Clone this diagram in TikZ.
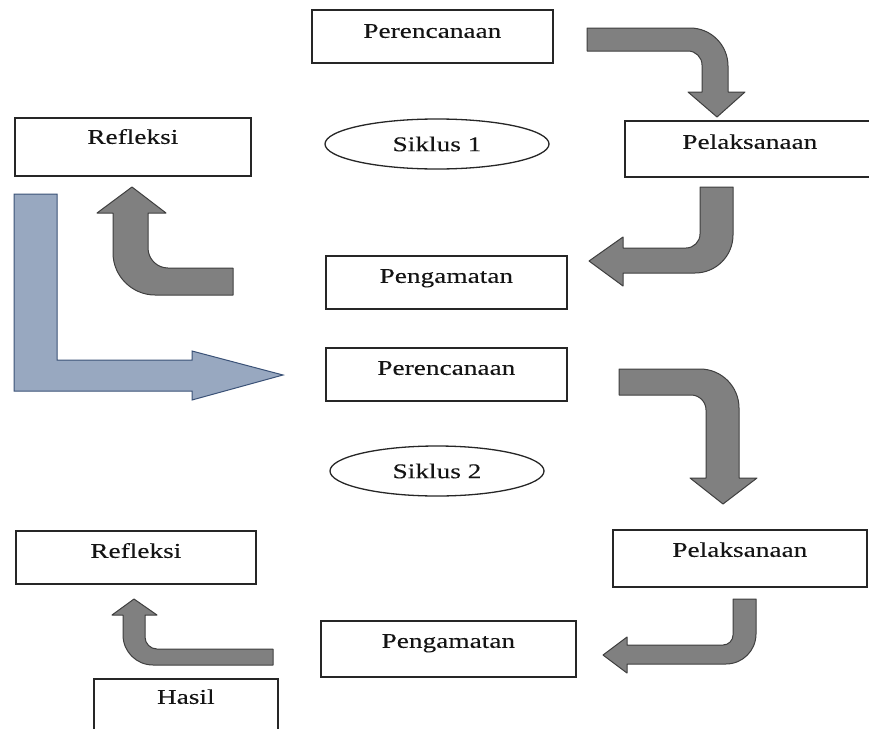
\documentclass[tikz,border=0pt]{standalone}
\usepackage{fontspec}
\setmainfont{Liberation Serif}[FakeStretch=1.3,FakeBold=0.15]
\usetikzlibrary{shapes.geometric}
\definecolor{ink}{HTML}{141414}
\definecolor{frame}{HTML}{262626}
\definecolor{bend}{HTML}{808080}
\definecolor{bendline}{HTML}{3F3F3F}
\definecolor{steel}{HTML}{98A8C0}
\definecolor{steelline}{HTML}{3B5277}
\tikzset{every node/.style={font=\fontsize{21}{25}\selectfont,text=ink},
box/.style={draw=frame,line width=1.7pt,inner sep=0pt,align=center,anchor=north west,text height=27pt,text depth=26pt},
cycle/.style={ellipse,draw=frame,line width=1.3pt,inner sep=0pt,minimum height=50pt},
bent/.style={fill=bend,draw=bendline,line width=1pt,line join=round},
back/.style={fill=steel,draw=steelline,line width=1pt}}
\begin{document}
\begin{tikzpicture}[x=1pt,y=-1pt]
\useasboundingbox (0,0) rectangle (869,728);
% siklus 1
\node[box,text width=241pt,text height=28pt,text depth=25pt] (plan1) at (311,9) {Perencanaan};
\node[box,text width=236pt,text height=26pt,text depth=32pt] (refl1) at (14,117) {Refleksi};
\node[box,text width=250pt,text height=28pt,text depth=28pt] (act1) at (624,120) {Pelaksanaan};
\node[box,text width=241pt] (obs1) at (325,255) {Pengamatan};
\node[cycle,minimum width=224pt] (cyc1) at (437,144) {Siklus 1};
% siklus 2
\node[box,text width=241pt] (plan2) at (325,347) {Perencanaan};
\node[box,text width=240pt] (refl2) at (15,530) {Refleksi};
\node[box,text width=254pt,text depth=30pt] (act2) at (612,529) {Pelaksanaan};
\node[box,text width=255pt,text depth=29pt] (obs2) at (320,620) {Pengamatan};
\node[box,text width=184pt,text height=25pt,text depth=35pt] (res) at (93,678) {Hasil};
\node[cycle,minimum width=214pt] (cyc2) at (437,471) {Siklus 2};
% bent arrows
\draw[bent] (587,28) -- (690,28) .. controls (711,28) and (728,45) .. (728,66) -- (728,92)
  -- (745,92) -- (717,117) -- (688,92) -- (702,92) -- (702,65)
  .. controls (702,57.3) and (695.7,51) .. (688,51) -- (587,51) -- cycle;
\draw[bent] (700,187) -- (733,187) -- (733,235) .. controls (733,256) and (716,273) .. (695,273)
  -- (623,273) -- (623,286) -- (589,261) -- (623,237) -- (623,248) -- (686,248)
  .. controls (693.7,248) and (700,241.7) .. (700,234) -- cycle;
\draw[bent] (233,268) -- (233,295) -- (155,295) .. controls (132,295) and (113,276) .. (113,253)
  -- (113,213) -- (97,213) -- (132,187) -- (166,213) -- (148,213) -- (148,248)
  .. controls (148,259) and (157,268) .. (168,268) -- cycle;
\draw[back] (14,194) -- (57,194) -- (57,360) -- (192,360) -- (192,351) -- (283,375)
  -- (192,400) -- (192,391) -- (14,391) -- cycle;
\draw[bent] (619,369) -- (700,369) .. controls (721.5,369) and (739,386.5) .. (739,408)
  -- (739,478) -- (757,478) -- (723,504) -- (690,478) -- (706,478) -- (706,410)
  .. controls (706,401.7) and (699.3,395) .. (691,395) -- (619,395) -- cycle;
\draw[bent] (273,649) -- (273,665) -- (153,665) .. controls (136.4,665) and (123,651.6) .. (123,635)
  -- (123,615) -- (112,615) -- (134,599) -- (157,615) -- (145,615) -- (145,637)
  .. controls (145,643.6) and (150.4,649) .. (157,649) -- cycle;
\draw[bent] (733,599) -- (756,599) -- (756,634) .. controls (756,650.6) and (742.6,664) .. (726,664)
  -- (627,664) -- (627,673) -- (603,655) -- (627,637) -- (627,645) -- (723,645)
  .. controls (728.5,645) and (733,640.5) .. (733,635) -- cycle;
\end{tikzpicture}
\end{document}
